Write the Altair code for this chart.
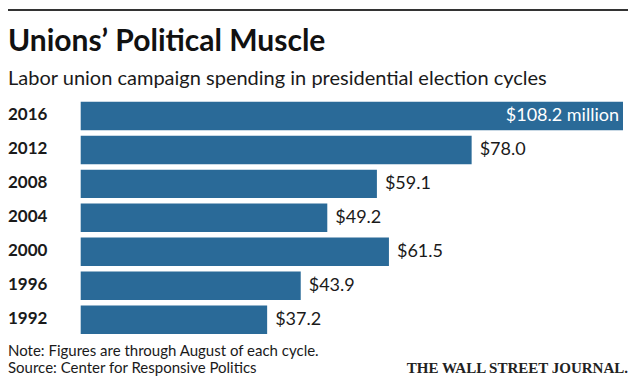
import altair as alt
import pandas as pd

# ---- data ----
years = ["2016", "2012", "2008", "2004", "2000", "1996", "1992"]
values = [108.2, 78.0, 59.1, 49.2, 61.5, 43.9, 37.2]
value_labels = ["$108.2 million", "$78.0", "$59.1", "$49.2", "$61.5", "$43.9", "$37.2"]
inside = [True, False, False, False, False, False, False]

title_text = "Unions\u2019 Political Muscle"
subtitle_text = "Labor union campaign spending in presidential election cycles"
note_text = "Note: Figures are through August of each cycle."
source_text = "Source: Center for Responsive Politics"
brand_text = "THE WALL STREET JOURNAL."

BAR = "#2a6a98"
INK = "#1a1a1a"
SANS = "Lato"

df = pd.DataFrame({"year": years, "value": values, "label": value_labels, "inside": inside})

x_scale = alt.Scale(domain=[0, 108.2], range=[72.7, 615], nice=False, zero=True)
y_scale = alt.Scale(range=[90.95, 328.75], paddingInner=0.162, paddingOuter=0.081)

base = alt.Chart(df)
X = alt.X("value:Q", scale=x_scale, axis=None)
Y = alt.Y("year:N", sort=years, scale=y_scale, axis=None)

bars = base.mark_bar(color=BAR).encode(x=X, y=Y)

out_labels = base.transform_filter("!datum.inside").mark_text(
    align="left", baseline="middle", dx=8, font=SANS, fontSize=18, color=INK
).encode(x=X, y=Y, text="label:N")

in_labels = base.transform_filter("datum.inside").mark_text(
    align="right", baseline="middle", dx=-4, font=SANS, fontSize=18, color="white"
).encode(x=X, y=Y, text="label:N")

year_labels = base.mark_text(
    align="left", baseline="middle", dy=-1, font=SANS, fontSize=17, fontWeight="bold", color=INK
).encode(x=alt.value(0), y=Y, text="year:N")


def line(txt, x, y, **kw):
    return alt.Chart(pd.DataFrame({"t": [txt]})).mark_text(baseline="alphabetic", **kw).encode(
        x=alt.value(x), y=alt.value(y), text="t:N"
    )


top_rule = alt.Chart(pd.DataFrame({"a": [0]})).mark_rule(color="#333333", strokeWidth=2).encode(
    x=alt.value(0), x2=alt.value(620), y=alt.value(2)
)

title = line(title_text, 0, 43, align="left", font=SANS, fontSize=30, fontWeight="bold", color="#111111")
subtitle = line(subtitle_text, 0, 77, align="left", font=SANS, fontSize=20, color=INK)
note = line(note_text, 0, 347.5, align="left", font=SANS, fontSize=15, color=INK)
source = line(source_text, 0, 364.5, align="left", font=SANS, fontSize=15, color=INK)
brand = line(brand_text, 620, 364.5, align="right", font="Liberation Serif", fontSize=15,
             fontWeight="bold", color="#222222")

chart = alt.layer(
    top_rule, title, subtitle, bars, out_labels, in_labels, year_labels, note, source, brand
).properties(
    width=620,
    height=368,
    padding=0,
    autosize=alt.AutoSizeParams(type="none"),
    background="white",
).configure_view(stroke=None)

chart.save("out.html", embed_options={"renderer": "svg", "actions": False})
